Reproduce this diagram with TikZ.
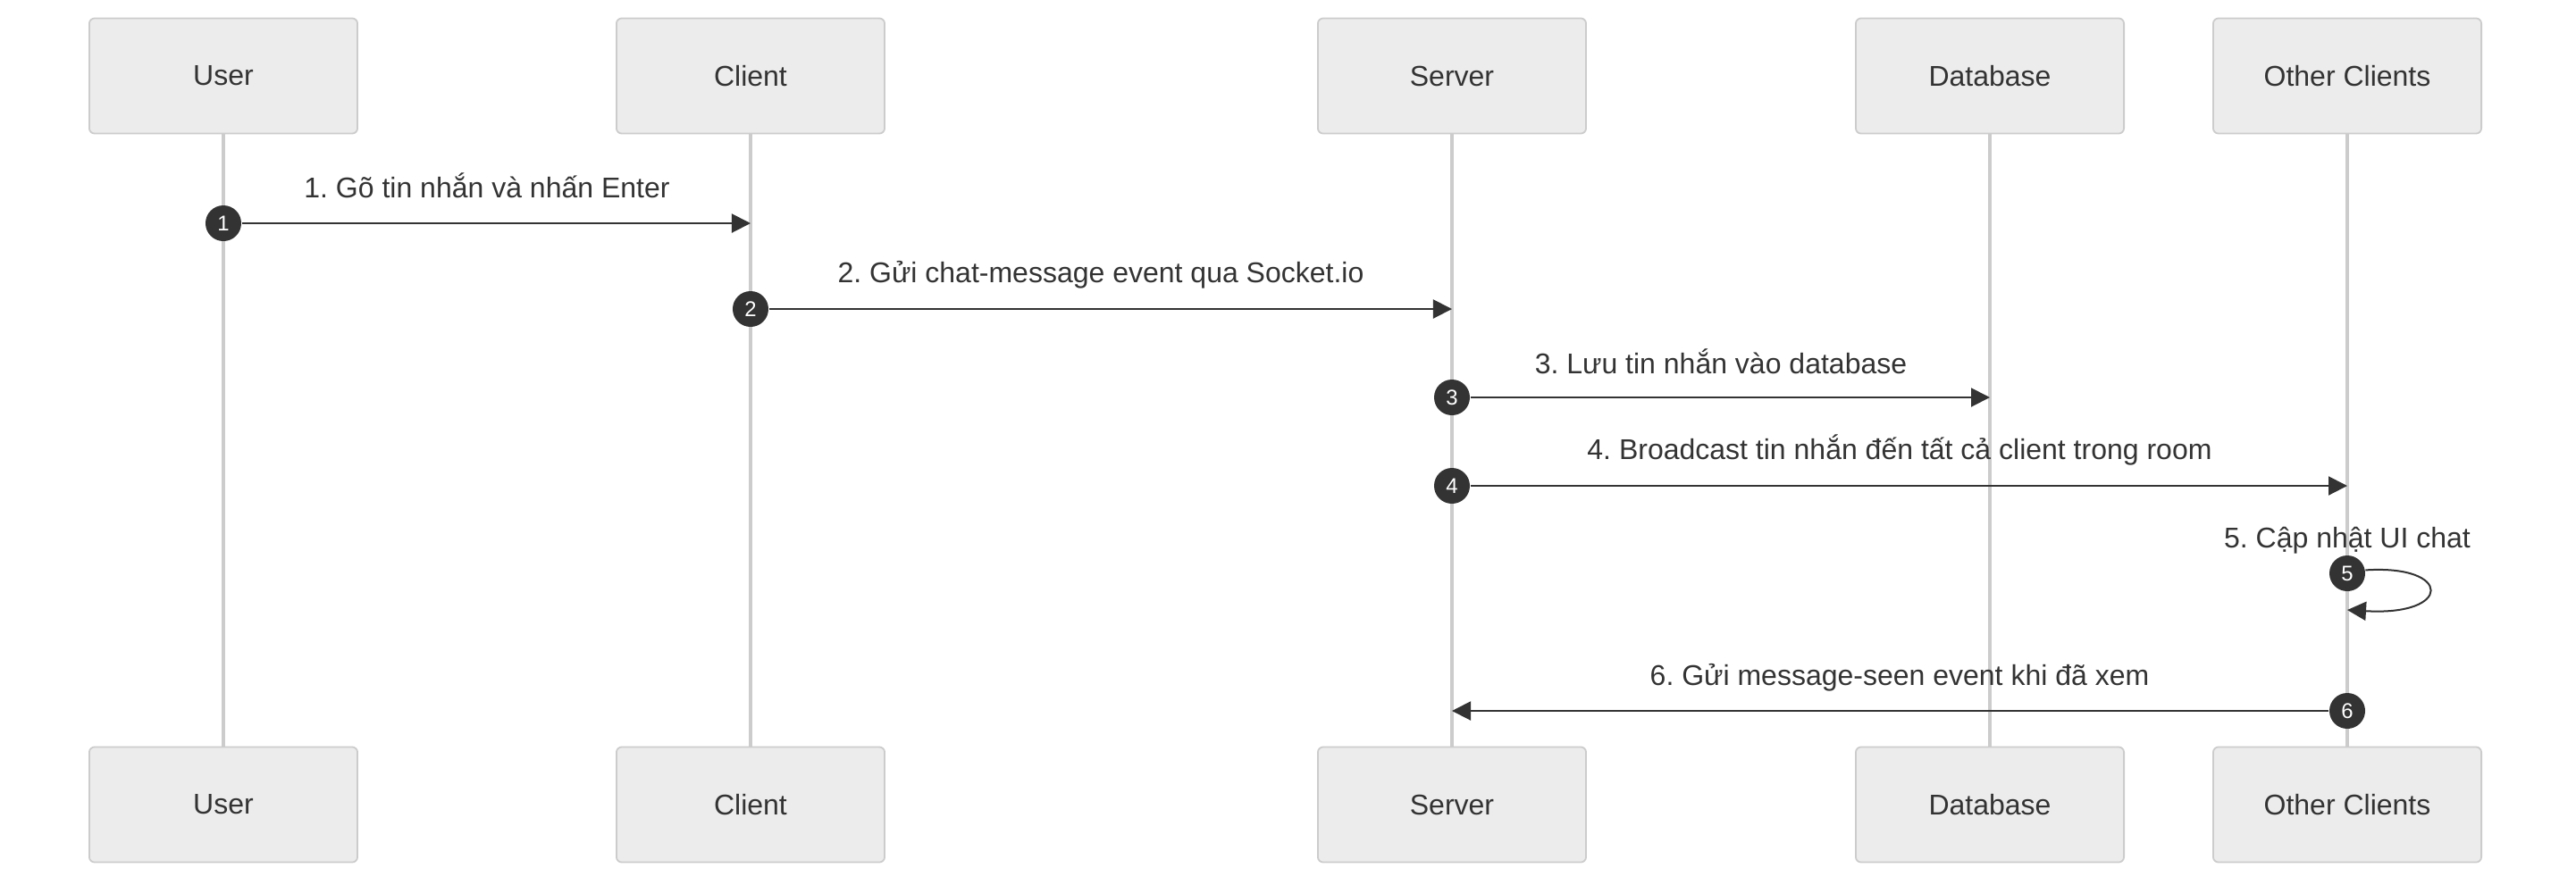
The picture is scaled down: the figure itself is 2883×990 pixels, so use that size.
\documentclass[tikz,border=0pt]{standalone}
\usepackage{fontspec}
\setmainfont{Liberation Sans}
\frenchspacing
\usetikzlibrary{arrows.meta}
\definecolor{actorfill}{HTML}{ECECEC}
\definecolor{actorline}{HTML}{CCCCCC}
\definecolor{lifegray}{HTML}{CCCCCC}
\definecolor{ink}{HTML}{333333}

\begin{document}
\begin{tikzpicture}[x=0.01cm, y=-0.01cm,
  actor/.style={draw=actorline, fill=actorfill, rounded corners=0.06cm, line width=0.018cm,
    minimum width=3cm, minimum height=1.29cm, text=ink, font=\fontsize{9.1}{11}\selectfont},
  life/.style={draw=lifegray, line width=0.035cm},
  msg/.style={text=ink, font=\fontsize{9.1}{11}\selectfont, inner sep=0pt},
  badge/.style={circle, fill=ink, text=white, inner sep=0pt, minimum size=0.4cm,
    font=\fontsize{6.8}{8}\selectfont},
  call/.style={draw=ink, line width=0.02cm, -{Triangle[length=0.21cm, width=0.21cm]}}]
  \useasboundingbox (0, 0) rectangle (2883, 990);

  \node[actor] (user) at (250, 85) {User};
  \node[actor] (client) at (840, 85) {Client};
  \node[actor] (server) at (1625, 85) {Server};
  \node[actor] (db) at (2227, 85) {Database};
  \node[actor] (others) at (2627, 85) {Other Clients};
  \node[actor] (user2) at (250, 901) {User};
  \node[actor] (client2) at (840, 901) {Client};
  \node[actor] (server2) at (1625, 901) {Server};
  \node[actor] (db2) at (2227, 901) {Database};
  \node[actor] (others2) at (2627, 901) {Other Clients};

  \draw[life] (user) -- (user2);
  \draw[life] (client) -- (client2);
  \draw[life] (server) -- (server2);
  \draw[life] (db) -- (db2);
  \draw[life] (others) -- (others2);

  \node[badge] (b1) at (250, 250) {1};
  \node[msg] (t1) at (545, 208) {1. Gõ tin nhắn và nhấn Enter};
  \draw[call] (b1.east) -- (b1 -| client);

  \node[badge] (b2) at (840, 346) {2};
  \node[msg] (t2) at (1232, 308) {2. Gửi chat-message event qua Socket.io};
  \draw[call] (b2.east) -- (b2 -| server);

  \node[badge] (b3) at (1625, 445) {3};
  \node[msg] (t3) at (1926, 405) {3. Lưu tin nhắn vào database};
  \draw[call] (b3.east) -- (b3 -| db);

  \node[badge] (b4) at (1625, 544) {4};
  \node[msg] (t4) at (2126, 504) {4. Broadcast tin nhắn đến tất cả client trong room};
  \draw[call] (b4.east) -- (b4 -| others);

  \node[badge] (b5) at (2627, 642) {5};
  \node[msg] (t5) at (2627, 605) {5. Cập nhật UI chat};
  \coordinate (loop5) at (2627, 683);
  \draw[call] (b5.10) .. controls (2745, 632) and (2745, 690) .. (loop5);

  \node[badge] (b6) at (2627, 796) {6};
  \node[msg] (t6) at (2126, 759) {6. Gửi message-seen event khi đã xem};
  \draw[call] (b6.west) -- (b6 -| server);
\end{tikzpicture}
\end{document}
